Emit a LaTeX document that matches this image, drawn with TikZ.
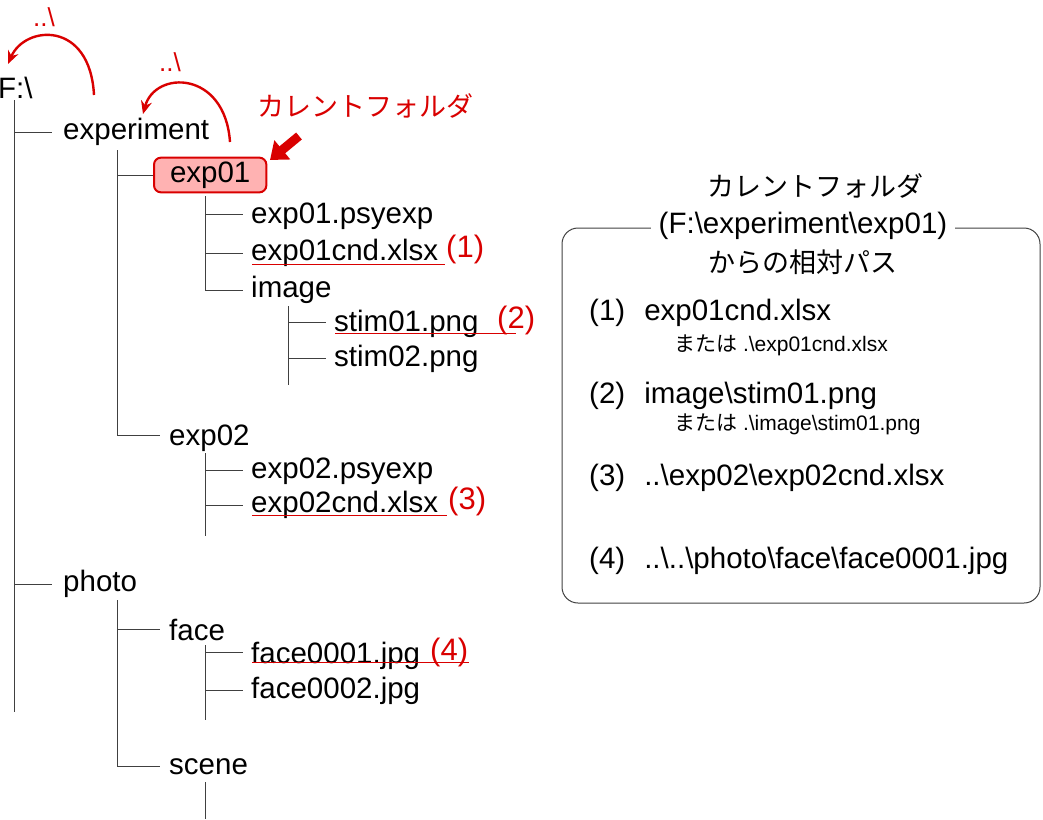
\documentclass[tikz,border=0pt]{standalone}
\usepackage{fontspec}
\setmainfont{Liberation Sans}
\newfontfamily\cjk{Noto Sans CJK JP}
\usetikzlibrary{arrows.meta}
\tikzset{
  item/.style={anchor=west,inner sep=1pt,font=\fontsize{29.5}{32}\selectfont},
  note/.style={anchor=west,inner sep=1pt,font=\fontsize{21}{24}\selectfont},
  num/.style={anchor=west,inner sep=1pt,text=red!85!black,font=\fontsize{31}{34}\selectfont},
  tree/.style={line width=1pt,black!75},
  underline/.style={line width=1pt,red!85!black},
  jump/.style={line width=2.4pt,red!85!black,-{Stealth[length=13pt,width=11pt]}}
}
\begin{document}
\begin{tikzpicture}[x=1pt,y=-1pt]
\useasboundingbox (0,0) rectangle (1043,819);
% tree
\node[item] (root) at (-3,88) {F:\textbackslash};
\node[item] (experiment) at (62,132) {experiment};
\node[item,draw=red!85!black,line width=2pt,fill=red!30,rounded corners=7pt,inner xsep=16pt,inner ysep=4pt] (expA) at (153,175) {exp01};
\node[item] (psyA) at (250,216) {exp01.psyexp};
\node[item] (cndA) at (250,253) {exp01cnd.xlsx};
\node[item] (image) at (250,290) {image};
\node[item] (stimA) at (333,324) {stim01.png};
\node[item] (stimB) at (333,359) {stim02.png};
\node[item] (expB) at (168,438) {exp02};
\node[item] (psyB) at (250,471) {exp02.psyexp};
\node[item] (cndB) at (250,505) {exp02cnd.xlsx};
\node[item] (photo) at (62,584) {photo};
\node[item] (face) at (168,630) {face};
\node[item] (faceA) at (250,656) {face0001.jpg};
\node[item] (faceB) at (250,691) {face0002.jpg};
\node[item] (scene) at (168,767) {scene};

\draw[tree] (14,100) -- (14,712);
\draw[tree] (14,132) -- (52,132) (14,584) -- (52,584);
\draw[tree] (117,150) -- (117,435) -- (160,435) (117,175) -- (expA.west);
\draw[tree] (205,196) -- (205,290) -- (243,290) (205,214) -- (243,214) (205,253) -- (243,253);
\draw[tree] (288,306) -- (288,385) (288,322) -- (326,322) (288,358) -- (326,358);
\draw[tree] (205,453) -- (205,536) (205,470) -- (243,470) (205,505) -- (243,505);
\draw[tree] (117,600) -- (117,766) -- (160,766) (117,629) -- (160,629);
\draw[tree] (205,645) -- (205,720) (205,652) -- (243,652) (205,690) -- (243,690);
\draw[tree] (205,782) -- (205,819);

% marks
\node[num] (n1) at (445,249) {(1)};
\node[num] (n2) at (496,320) {(2)};
\node[num] (n3) at (447,501) {(3)};
\node[num] (n4) at (429,652) {(4)};
\draw[underline] (252,264) -- (n1.west |- 0,264);
\draw[underline] (335,333) -- (n2.center |- 0,333);
\draw[underline] (252,515) -- (n3.west |- 0,515);
\draw[underline] (252,662) -- (n4.east |- 0,662);

% parent arrows
\node[num,font=\fontsize{26}{30}\selectfont] (upA) at (32,17) {..\textbackslash};
\node[num,font=\fontsize{26}{30}\selectfont] (upB) at (158,62) {..\textbackslash};
\draw[jump] (94,95) .. controls (90,20) and (25,25) .. (8,64);
\draw[jump] (230,142) .. controls (225,70) and (155,70) .. (143,114);
\node[num,font=\cjk\fontsize{27}{30}\selectfont] (cur) at (256,106) {カレントフォルダ};
\draw[red!85!black,line width=9pt,-{Triangle[length=16pt,width=24pt]}] (299,136) -- (270,160);

% relative path box
\draw[line width=1pt,black!75,rounded corners=16pt] (562,228) rectangle (1040,603);
\node[font=\cjk\fontsize{27}{30}\selectfont] (title) at (815,186) {カレントフォルダ};
\node[item,anchor=center,fill=white,inner xsep=8pt] (path) at (803,226) {(F:\textbackslash experiment\textbackslash exp01)};
\node[font=\cjk\fontsize{27}{30}\selectfont] (sub) at (803,262) {からの相対パス};
\node[item] (r1) at (588,313) {(1)\hspace{19pt}exp01cnd.xlsx};
\node[note] (s1) at (673,345) {{\cjk または} .\textbackslash exp01cnd.xlsx};
\node[item] (r2) at (588,396) {(2)\hspace{19pt}image\textbackslash stim01.png};
\node[note] (s2) at (673,424) {{\cjk または} .\textbackslash image\textbackslash stim01.png};
\node[item] (r3) at (588,478) {(3)\hspace{19pt}..\textbackslash exp02\textbackslash exp02cnd.xlsx};
\node[item] (r4) at (588,561) {(4)\hspace{19pt}..\textbackslash..\textbackslash photo\textbackslash face\textbackslash face0001.jpg};
\end{tikzpicture}
\end{document}
